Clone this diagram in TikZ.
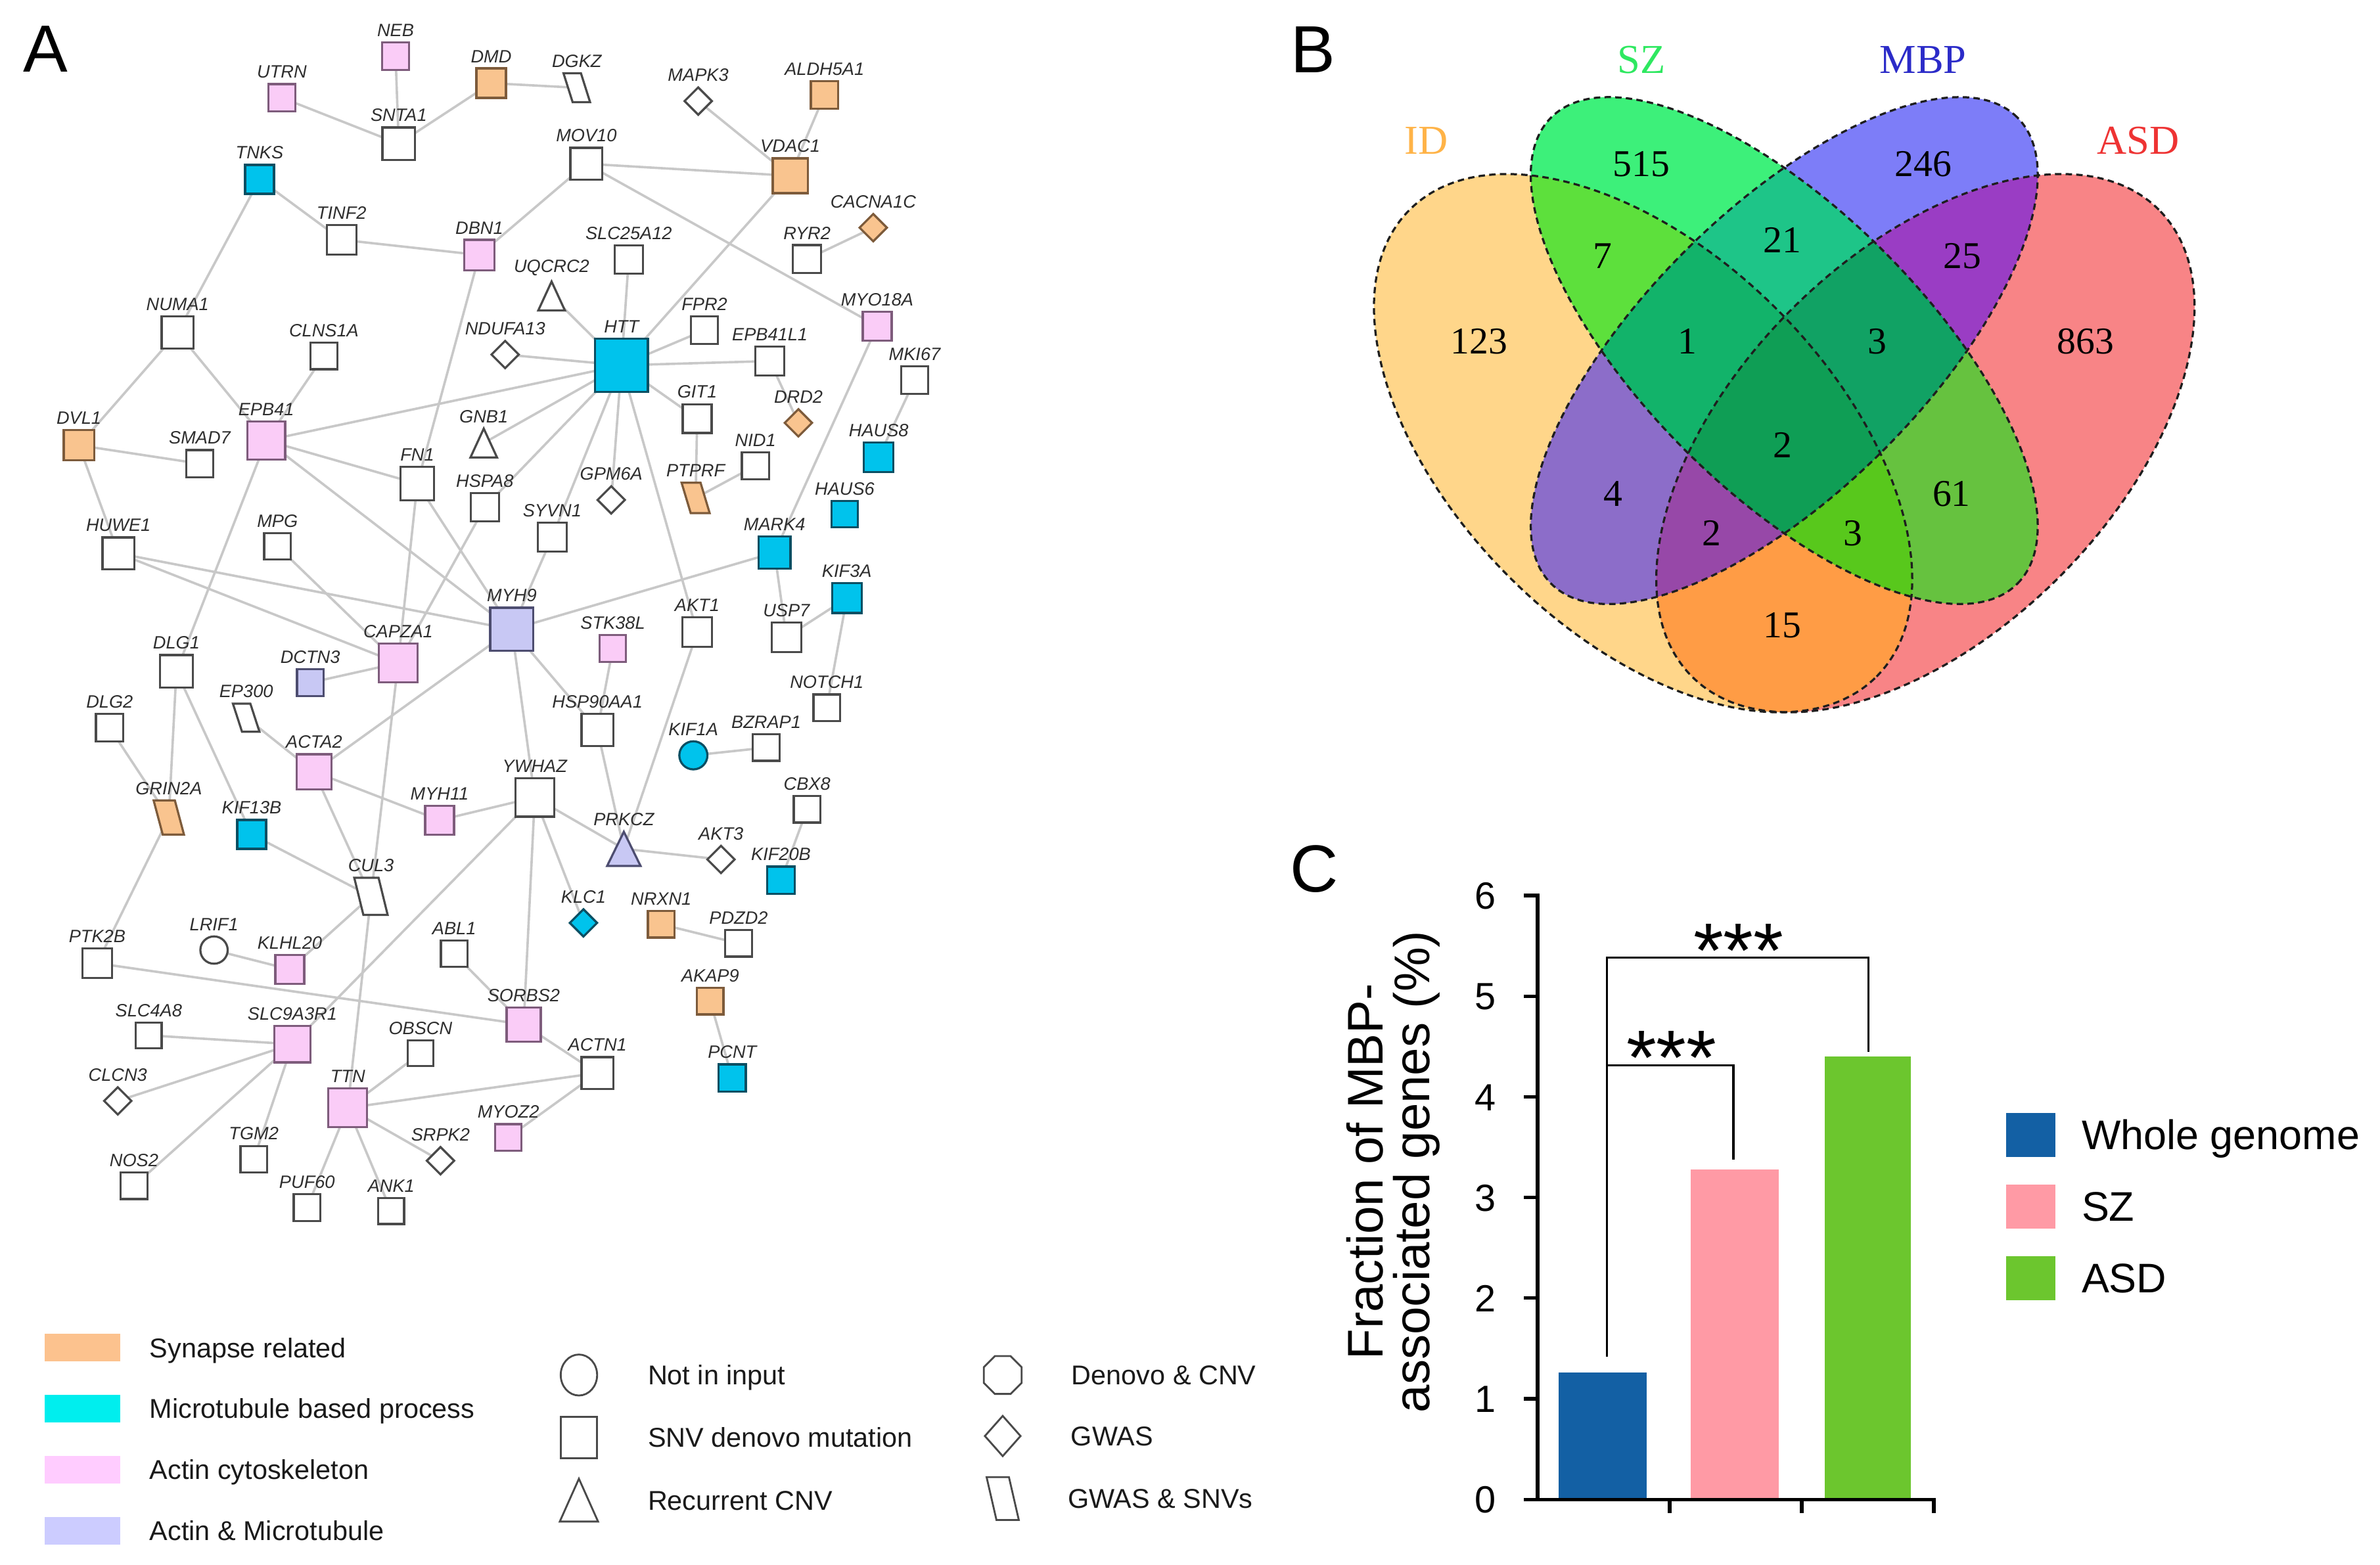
\documentclass[tikz,border=0pt]{standalone}
\usepackage{fontspec}
\setmainfont{Liberation Sans}
\newfontfamily\vennfont{Liberation Serif}
\usetikzlibrary{positioning}
\usetikzlibrary{shapes.geometric}
\pgfdeclarelayer{netbg}
\pgfsetlayers{netbg,main}
\definecolor{gdraw}{HTML}{4A4A4A}
\definecolor{gtext}{HTML}{2E2E2E}
\definecolor{linkgray}{HTML}{C8C8C8}
\definecolor{synfill}{HTML}{F9C48F}
\definecolor{syndraw}{HTML}{7D5B3B}
\definecolor{mtfill}{HTML}{00C3EC}
\definecolor{mtdraw}{HTML}{0B4F63}
\definecolor{actfill}{HTML}{FACCF7}
\definecolor{actdraw}{HTML}{7E5C7C}
\definecolor{amfill}{HTML}{C8C8F4}
\definecolor{amdraw}{HTML}{4D4D70}
\definecolor{synleg}{HTML}{FCC28E}
\definecolor{mtleg}{HTML}{00EEEE}
\definecolor{actleg}{HTML}{FFCCFF}
\definecolor{amleg}{HTML}{CCCCFF}
\definecolor{legtext}{HTML}{1A1A1A}
\definecolor{vA}{HTML}{FFD68A}
\definecolor{vB}{HTML}{3DF07A}
\definecolor{vC}{HTML}{7D7DF8}
\definecolor{vD}{HTML}{F88486}
\definecolor{vAB}{HTML}{5DE03C}
\definecolor{vAC}{HTML}{8C6DC9}
\definecolor{vAD}{HTML}{FF9C45}
\definecolor{vBC}{HTML}{1EC588}
\definecolor{vBD}{HTML}{66C23F}
\definecolor{vCD}{HTML}{9A3DC4}
\definecolor{vABC}{HTML}{12B36A}
\definecolor{vABD}{HTML}{58C81C}
\definecolor{vACD}{HTML}{9748A8}
\definecolor{vBCD}{HTML}{11A264}
\definecolor{vABCD}{HTML}{0F9E55}
\definecolor{vennline}{HTML}{1E1E1E}
\definecolor{idtext}{HTML}{FFB347}
\definecolor{sztext}{HTML}{2EE860}
\definecolor{mbptext}{HTML}{2B2BC8}
\definecolor{asdtext}{HTML}{EE3333}
\definecolor{barblue}{HTML}{1360A4}
\definecolor{barpink}{HTML}{FF9AA5}
\definecolor{bargreen}{HTML}{6CC62E}
\newcommand{\glfont}{\fontsize{6.7}{8}\selectfont\itshape}
\newcommand{\ellid}{(1082.5,-292) ellipse (217.5 and 124.7)}
\newcommand{\ellsz}{(1175.5,-231) ellipse (217.2 and 92.6)}
\newcommand{\ellmbp}{(1175.5,-231) ellipse (217.2 and 92.6)}
\newcommand{\ellasd}{(1268.5,-292) ellipse (217.5 and 124.7)}
\tikzset{
  gbox/.style={draw=gdraw, line width=0.8pt, fill=white},
  glabel/.style={font=\glfont, text=gtext, inner sep=0pt},
  gene/.style={inner sep=0pt, outer sep=0pt, minimum size=0.36cm, label={[glabel]above:#1}},
  snv/.style={gene=#1, rectangle, gbox},
  gwas/.style={gene=#1, diamond, gbox},
  nii/.style={gene=#1, circle, gbox},
  cnv/.style={gene=#1, rectangle, minimum width=0.35cm, minimum height=0.38cm},
  gsnv/.style={gene=#1, rectangle, minimum width=0.35cm, minimum height=0.38cm},
  syn/.style={fill=synfill, draw=syndraw},
  mt/.style={fill=mtfill, draw=mtdraw},
  act/.style={fill=actfill, draw=actdraw},
  am/.style={fill=amfill, draw=amdraw},
  link/.style={draw=linkgray, line width=0.9pt},
  legsw/.style={rectangle, draw=none, inner sep=0pt, minimum width=1cm, minimum height=0.36cm},
  legsym/.style={draw=gdraw, line width=0.7pt, fill=white, inner sep=0pt, minimum width=0.48cm, minimum height=0.54cm},
  legtxt/.style={font=\fontsize{10.2}{12}\selectfont, text=legtext, inner sep=0pt, text height=7.3pt, text depth=0pt},
  panel/.style={font=\fontsize{25}{28}\selectfont, inner sep=0pt, text height=17.9pt, text depth=0pt},
  vline/.style={draw=vennline, line width=0.8pt, dash pattern=on 2.4pt off 1.6pt},
  vnum/.style={font=\vennfont\fontsize{14.2}{16}\selectfont, inner sep=0pt, text height=9.6pt, text depth=0pt},
  vset/.style={font=\vennfont\fontsize{15.4}{17}\selectfont, inner sep=0pt, text height=10.2pt, text depth=0pt},
  rid/.style={rotate around={-45:(1082.5,-292)}},
  rsz/.style={rotate around={-45:(1175.5,-231)}},
  rmbp/.style={rotate around={45:(1175.5,-231)}},
  rasd/.style={rotate around={45:(1268.5,-292)}},
  axisline/.style={line width=1.3pt, line cap=rect},
  bracket/.style={line width=0.75pt},
  tick/.style={font=\fontsize{14.2}{16}\selectfont, inner sep=0pt, anchor=east, text height=10.2pt, text depth=0pt},
  stars/.style={font=\fontsize{29}{30}\selectfont, inner sep=0pt, anchor=base},
  barleg/.style={rectangle, draw=none, inner sep=0pt, minimum width=0.65cm, minimum height=0.58cm},
  bartxt/.style={font=\fontsize{15.5}{17}\selectfont, inner sep=0pt, text height=11.1pt, text depth=0pt}
}
\begin{document}
\begin{tikzpicture}[x=0.02cm, y=0.02cm, label distance=0.07cm]
\useasboundingbox (0,0) rectangle (1568,-1031);

\node [panel] at (30,-31.5) (pa) {A};
\node [panel] at (865,-32) (pb) {B};
\node [panel] at (866,-572) (pc) {C};

\node [snv=NEB, act] at (260.6,-37) (neb) {};
\node [snv=UTRN, act] at (185.7,-64.4) (utrn) {};
\node [snv=DMD, syn, minimum size=0.39cm] at (323.6,-54.8) (dmd) {};
\node [gsnv=DGKZ] at (380,-57.8) (dgkz) {};
\node [snv=SNTA1, minimum size=0.43cm] at (262.7,-94.7) (snta1) {};
\node [gwas=MAPK3] at (460,-66.6) (mapk3) {};
\node [snv=ALDH5A1, syn] at (543.2,-62.5) (aldh5a1) {};
\node [snv=TNKS, mt, minimum size=0.38cm] at (171,-118.2) (tnks) {};
\node [snv=MOV10, minimum size=0.42cm] at (386.3,-107.9) (mov10) {};
\node [snv=VDAC1, syn, minimum size=0.46cm] at (520.6,-115.8) (vdac1) {};
\node [gwas=CACNA1C, syn] at (575.3,-150) (cacna1c) {};
\node [snv=TINF2, minimum size=0.39cm] at (225,-158) (tinf2) {};
\node [snv=DBN1, act, minimum size=0.40cm] at (315.8,-168) (dbn1) {};
\node [snv=SLC25A12, minimum size=0.37cm] at (414.2,-171) (slc25a12) {};
\node [snv=RYR2, minimum size=0.37cm] at (531.7,-170.7) (ryr2) {};
\node [cnv=UQCRC2] at (363.4,-195) (uqcrc2) {};
\node [snv=MYO18A, act, minimum size=0.38cm] at (577.9,-214.8) (myo18a) {};
\node [snv=NUMA1, minimum size=0.42cm] at (117,-219) (numa1) {};
\node [snv=CLNS1A, minimum size=0.35cm] at (213.4,-234.5) (clns1a) {};
\node [gwas=NDUFA13] at (332.8,-233.6) (ndufa13) {};
\node [snv=HTT, mt, minimum size=0.70cm] at (409.4,-240.7) (htt) {};
\node [snv=FPR2] at (464.1,-217.6) (fpr2) {};
\node [snv=EPB41L1, minimum size=0.38cm] at (507.2,-237.9) (epb41l1) {};
\node [snv=MKI67] at (602.6,-250.5) (mki67) {};
\node [cnv=GNB1] at (318.7,-291.9) (gnb1) {};
\node [snv=GIT1, minimum size=0.38cm] at (459.3,-275.8) (git1) {};
\node [gwas=DRD2, syn] at (526,-278.6) (drd2) {};
\node [snv=DVL1, syn, minimum size=0.40cm] at (52,-293.4) (dvl1) {};
\node [snv=EPB41, act, minimum size=0.50cm] at (175.4,-290.2) (epb41) {};
\node [snv=SMAD7] at (131.6,-305.5) (smad7) {};
\node [snv=HAUS8, mt, minimum size=0.39cm] at (578.9,-301.2) (haus8) {};
\node [snv=NID1] at (497.7,-306.9) (nid1) {};
\node [snv=FN1, minimum size=0.44cm] at (274.9,-318.7) (fn1) {};
\node [snv=HSPA8, minimum size=0.37cm] at (319.4,-334.1) (hspa8) {};
\node [gwas=GPM6A] at (402.7,-329.4) (gpm6a) {};
\node [gsnv=PTPRF, minimum width=0.37cm, minimum height=0.40cm] at (458.3,-328.1) (ptprf) {};
\node [snv=HAUS6, mt, minimum size=0.35cm] at (556.5,-338.8) (haus6) {};
\node [snv=SYVN1, minimum size=0.38cm] at (363.8,-353.8) (syvn1) {};
\node [snv=HUWE1, minimum size=0.42cm] at (78,-364.6) (huwe1) {};
\node [snv=MPG, minimum size=0.35cm] at (182.8,-360) (mpg) {};
\node [snv=MARK4, mt, minimum size=0.42cm] at (510.3,-364.1) (mark4) {};
\node [snv=KIF3A, mt, minimum size=0.39cm] at (557.9,-394.1) (kif3a) {};
\node [snv=MYH9, am, minimum size=0.57cm] at (337.2,-414.7) (myh9) {};
\node [snv=AKT1, minimum size=0.39cm] at (459.3,-416.6) (akt1) {};
\node [snv=STK38L, act, minimum size=0.35cm] at (403.7,-427.3) (stk38l) {};
\node [snv=USP7, minimum size=0.39cm] at (518.1,-419.8) (usp7) {};
\node [snv=DLG1, minimum size=0.43cm] at (116.2,-442.3) (dlg1) {};
\node [snv=CAPZA1, act, minimum size=0.51cm] at (262.3,-436.9) (capza1) {};
\node [snv=DCTN3, am, minimum size=0.35cm] at (204.4,-449.8) (dctn3) {};
\node [gsnv=EP300, minimum height=0.37cm] at (162.2,-472.9) (ep300) {};
\node [snv=HSP90AA1, minimum size=0.42cm] at (393.6,-481) (hsp90aa1) {};
\node [snv=NOTCH1, minimum size=0.35cm] at (544.7,-466.3) (notch1) {};
\node [snv=DLG2] at (72.2,-479.5) (dlg2) {};
\node [nii=KIF1A, mt, minimum size=0.37cm] at (456.8,-497.7) (kif1a) {};
\node [snv=BZRAP1, minimum size=0.35cm] at (504.8,-492.6) (bzrap1) {};
\node [snv=ACTA2, act, minimum size=0.46cm] at (206.9,-508.5) (acta2) {};
\node [snv=CBX8, minimum size=0.35cm] at (531.7,-533.3) (cbx8) {};
\node [snv=YWHAZ, minimum size=0.51cm] at (352.3,-525.4) (ywhaz) {};
\node [snv=MYH11, act, minimum size=0.38cm] at (289.6,-540.4) (myh11) {};
\node [gsnv=GRIN2A, minimum width=0.40cm, minimum height=0.45cm] at (111.2,-538.6) (grin2a) {};
\node [cnv=PRKCZ, minimum width=0.44cm, minimum height=0.45cm] at (411,-559.3) (prkcz) {};
\node [snv=KIF13B, mt, minimum size=0.38cm] at (165.8,-549.8) (kif13b) {};
\node [gwas=AKT3] at (475,-566.3) (akt3) {};
\node [snv=KIF20B, mt] at (514.5,-580) (kif20b) {};
\node [gsnv=CUL3, minimum width=0.44cm, minimum height=0.49cm] at (244.4,-590.6) (cul3) {};
\node [gwas=KLC1, mt] at (384.4,-608.1) (klc1) {};
\node [snv=NRXN1, syn, minimum size=0.35cm] at (435.6,-609) (nrxn1) {};
\node [snv=PDZD2, minimum size=0.35cm] at (486.6,-621.6) (pdzd2) {};
\node [nii=LRIF1] at (141,-626) (lrif1) {};
\node [snv=PTK2B, minimum size=0.39cm] at (64,-634.7) (ptk2b) {};
\node [snv=KLHL20, act, minimum size=0.38cm] at (190.9,-638.7) (klhl20) {};
\node [snv=ABL1, minimum size=0.35cm] at (299.2,-628.4) (abl1) {};
\node [snv=AKAP9, syn, minimum size=0.35cm] at (467.9,-659.7) (akap9) {};
\node [snv=SORBS2, act, minimum size=0.45cm] at (345,-675) (sorbs2) {};
\node [snv=SLC4A8, minimum size=0.34cm] at (98,-682.2) (slc4a8) {};
\node [snv=SLC9A3R1, act, minimum size=0.48cm] at (192.6,-688) (slc9a3r1) {};
\node [snv=OBSCN, minimum size=0.34cm] at (277,-694) (obscn) {};
\node [snv=PCNT, mt] at (482.4,-710.3) (pcnt) {};
\node [snv=ACTN1, minimum size=0.42cm] at (393.6,-707) (actn1) {};
\node [gwas=CLCN3] at (77.6,-725.4) (clcn3) {};
\node [snv=TTN, act, minimum size=0.51cm] at (229.1,-730) (ttn) {};
\node [snv=MYOZ2, act, minimum size=0.35cm] at (334.9,-749.4) (myoz2) {};
\node [gwas=SRPK2] at (290.2,-764.8) (srpk2) {};
\node [snv=TGM2, minimum size=0.35cm] at (167.2,-763.8) (tgm2) {};
\node [snv=NOS2, minimum size=0.35cm] at (88.3,-781.3) (nos2) {};
\node [snv=PUF60, minimum size=0.35cm] at (202.3,-795.7) (puf60) {};
\node [snv=ANK1, minimum size=0.34cm] at (257.7,-798) (ank1) {};

\foreach \t in {uqcrc2,gnb1}
  \draw [gbox] (\t.south west) -- (\t.south east) -- (\t.north) -- cycle;
\draw [gbox, am] (prkcz.south west) -- (prkcz.south east) -- (prkcz.north) -- cycle;
\foreach \p in {dgkz,ep300,cul3}
  \draw [gbox] (\p.north west) -- ([xshift=-0.12cm]\p.north east) -- (\p.south east) -- ([xshift=0.12cm]\p.south west) -- cycle;
\foreach \p in {ptprf,grin2a}
  \draw [gbox, syn] (\p.north west) -- ([xshift=-0.12cm]\p.north east) -- (\p.south east) -- ([xshift=0.12cm]\p.south west) -- cycle;

\begin{pgfonlayer}{netbg}
\foreach \a/\b in {utrn/snta1, neb/snta1, snta1/dmd, dmd/dgkz, mapk3/vdac1, aldh5a1/vdac1,
    mov10/vdac1, mov10/dbn1, mov10/myo18a, vdac1/htt, ryr2/cacna1c, tnks/tinf2, tnks/numa1,
    tinf2/dbn1, dbn1/fn1, numa1/dvl1, numa1/epb41, clns1a/epb41, epb41/htt, epb41/fn1,
    epb41/myh9, epb41/dlg1, dvl1/smad7, dvl1/huwe1, huwe1/myh9, huwe1/capza1, mpg/capza1,
    fn1/myh9, fn1/capza1, hspa8/capza1, htt/hspa8, capza1/dctn3, myh9/acta2, capza1/cul3,
    cul3/ttn, acta2/cul3, ep300/acta2, acta2/myh11, myh11/ywhaz, dlg1/grin2a, dlg1/kif13b,
    dlg2/grin2a, grin2a/ptk2b, kif13b/cul3, cul3/klhl20, lrif1/klhl20, ptk2b/sorbs2,
    slc9a3r1/ywhaz, slc4a8/slc9a3r1, clcn3/slc9a3r1, nos2/slc9a3r1, tgm2/slc9a3r1,
    ttn/obscn, ttn/actn1, ttn/srpk2, ttn/puf60, ttn/ank1, abl1/sorbs2, sorbs2/actn1,
    actn1/myoz2, ywhaz/sorbs2, ywhaz/klc1, ywhaz/prkcz, myh9/ywhaz, prkcz/akt3,
    prkcz/hsp90aa1, prkcz/akt1, myh9/hsp90aa1, stk38l/hsp90aa1, myh9/mark4, myh9/syvn1,
    syvn1/htt, htt/ndufa13, htt/uqcrc2, htt/slc25a12, htt/fpr2, htt/epb41l1, htt/git1,
    htt/gnb1, htt/gpm6a, htt/akt1, git1/ptprf, ptprf/nid1, epb41l1/drd2, myo18a/mark4,
    mki67/haus8, mark4/usp7, usp7/kif3a, kif3a/notch1, kif1a/bzrap1, cbx8/kif20b,
    nrxn1/pdzd2, akap9/pcnt}
  \draw [link] (\a.center) -- (\b.center);
\end{pgfonlayer}

\node [legsw, fill=synleg] at (54.4,-888) (swsyn) {};
\node [legsw, fill=mtleg, below=0.43cm of swsyn] (swmt) {};
\node [legsw, fill=actleg, below=0.43cm of swmt] (swact) {};
\node [legsw, fill=amleg, below=0.43cm of swact] (swam) {};
\node [legtxt, right=0.37cm of swsyn] (txsyn) {Synapse related};
\node [legtxt, right=0.37cm of swmt] (txmt) {Microtubule based process};
\node [legtxt, right=0.37cm of swact] (txact) {Actin cytoskeleton};
\node [legtxt, right=0.37cm of swam] (txam) {Actin \& Microtubule};

\node [legsym, ellipse] at (381.4,-906) (kynii) {};
\node [legsym, rectangle, below=0.26cm of kynii] (kysnv) {};
\node [legsym, draw=none, below=0.26cm of kysnv] (kycnv) {};
\draw [legsym] (kycnv.south west) -- (kycnv.south east) -- (kycnv.north) -- cycle;
\node [legtxt, right=0.65cm of kynii] (txnii) {Not in input};
\node [legtxt, right=0.65cm of kysnv] (txsnv) {SNV denovo mutation};
\node [legtxt, right=0.65cm of kycnv] (txcnv) {Recurrent CNV};
\node [legsym, regular polygon, regular polygon sides=8, minimum size=0.54cm] at (660.6,-906) (kydc) {};
\node [legsym, diamond, below=0.26cm of kydc] (kygwas) {};
\node [legsym, draw=none, minimum width=0.40cm, below=0.26cm of kygwas] (kygs) {};
\draw [legsym] (kygs.north west) -- ([xshift=-0.13cm]kygs.north east) -- (kygs.south east) -- ([xshift=0.13cm]kygs.south west) -- cycle;
\node [legtxt, right=0.64cm of kydc] (txdc) {Denovo \& CNV};
\node [legtxt, right=0.64cm of kygwas] (txgwas) {GWAS};
\node [legtxt, right=0.64cm of kygs] (txgs) {GWAS \& SNVs};

\fill [vA, rid] \ellid;
\fill [vB, rsz] \ellsz;
\fill [vC, rmbp] \ellmbp;
\fill [vD, rasd] \ellasd;
\begin{scope}
  \clip [rid] \ellid;
  \fill [vAB, rsz] \ellsz;
  \fill [vAC, rmbp] \ellmbp;
  \fill [vAD, rasd] \ellasd;
\end{scope}
\begin{scope}
  \clip [rsz] \ellsz;
  \fill [vBC, rmbp] \ellmbp;
  \fill [vBD, rasd] \ellasd;
\end{scope}
\begin{scope}
  \clip [rmbp] \ellmbp;
  \fill [vCD, rasd] \ellasd;
\end{scope}
\begin{scope}
  \clip [rid] \ellid;
  \clip [rsz] \ellsz;
  \fill [vABC, rmbp] \ellmbp;
  \fill [vABD, rasd] \ellasd;
\end{scope}
\begin{scope}
  \clip [rid] \ellid;
  \clip [rmbp] \ellmbp;
  \fill [vACD, rasd] \ellasd;
\end{scope}
\begin{scope}
  \clip [rsz] \ellsz;
  \clip [rmbp] \ellmbp;
  \fill [vBCD, rasd] \ellasd;
\end{scope}
\begin{scope}
  \clip [rid] \ellid;
  \clip [rsz] \ellsz;
  \clip [rmbp] \ellmbp;
  \fill [vABCD, rasd] \ellasd;
\end{scope}
\draw [vline, rid] \ellid;
\draw [vline, rsz] \ellsz;
\draw [vline, rmbp] \ellmbp;
\draw [vline, rasd] \ellasd;

\node [vset, text=idtext] at (939.7,-92.7) (lbid) {ID};
\node [vset, text=sztext] at (1081.4,-39.5) (lbsz) {SZ};
\node [vset, text=mbptext] at (1267,-39.5) (lbmbp) {MBP};
\node [vset, text=asdtext] at (1408.8,-92.7) (lbasd) {ASD};
\node [vnum] at (1081.4,-107.8) (nsz) {515};
\node [vnum] at (1267,-107.8) (nmbp) {246};
\node [vnum] at (974.5,-224.8) (nid) {123};
\node [vnum] at (1374,-224.8) (nasd) {863};
\node [vnum] at (1055.8,-168.6) (nidsz) {7};
\node [vnum] at (1174.3,-158) (nszmbp) {21};
\node [vnum] at (1292.7,-168.6) (nmbpasd) {25};
\node [vnum] at (1111.6,-224.8) (nidszmbp) {1};
\node [vnum] at (1236.9,-224.8) (nszmbpasd) {3};
\node [vnum] at (1174.3,-293) (nall) {2};
\node [vnum] at (1062.8,-325) (nidmbp) {4};
\node [vnum] at (1285.7,-325) (nszasd) {61};
\node [vnum] at (1127.7,-350.9) (nidmbpasd) {2};
\node [vnum] at (1220.8,-350.9) (nidszasd) {3};
\node [vnum] at (1174.3,-411.6) (nidasd) {15};

\fill [barblue] (1027,-988) rectangle (1085,-904.2);
\fill [barpink] (1114,-988) rectangle (1172,-770.4);
\fill [bargreen] (1202,-988) rectangle (1259,-696.1);
\draw [axisline] (1013,-590) -- (1013,-988) -- (1274,-988);
\foreach \v in {0,...,6} {
  \draw [axisline] (1005,-988+66.33*\v) -- (1013,-988+66.33*\v);
  \node [tick] at (986,-988+66.33*\v) (yt\v) {\v};
}
\foreach \x in {1100,1187,1274}
  \draw [axisline] (\x,-988) -- (\x,-996);
\draw [bracket] (1058.5,-894) -- (1058.5,-631) -- (1231,-631) -- (1231,-693);
\draw [bracket] (1058.5,-702) -- (1142,-702) -- (1142,-764);
\node [stars] at (1145.4,-643.8) (sigasd) {***};
\node [stars] at (1101.2,-714.6) (sigsz) {***};
\node [font=\fontsize{18.8}{17.5}\selectfont, align=center, rotate=90, inner sep=0pt] at (918,-772) (ylabel) {Fraction of MBP-\\associated genes (\%)};
\node [barleg, fill=barblue] at (1338,-747.8) (kwg) {};
\node [barleg, fill=barpink, below=0.35cm of kwg] (ksz) {};
\node [barleg, fill=bargreen, below=0.35cm of ksz] (kasd) {};
\node [bartxt, right=0.33cm of kwg] (twg) {Whole genome};
\node [bartxt, right=0.33cm of ksz] (tsz) {SZ};
\node [bartxt, right=0.33cm of kasd] (tasd) {ASD};
\end{tikzpicture}
\end{document}
